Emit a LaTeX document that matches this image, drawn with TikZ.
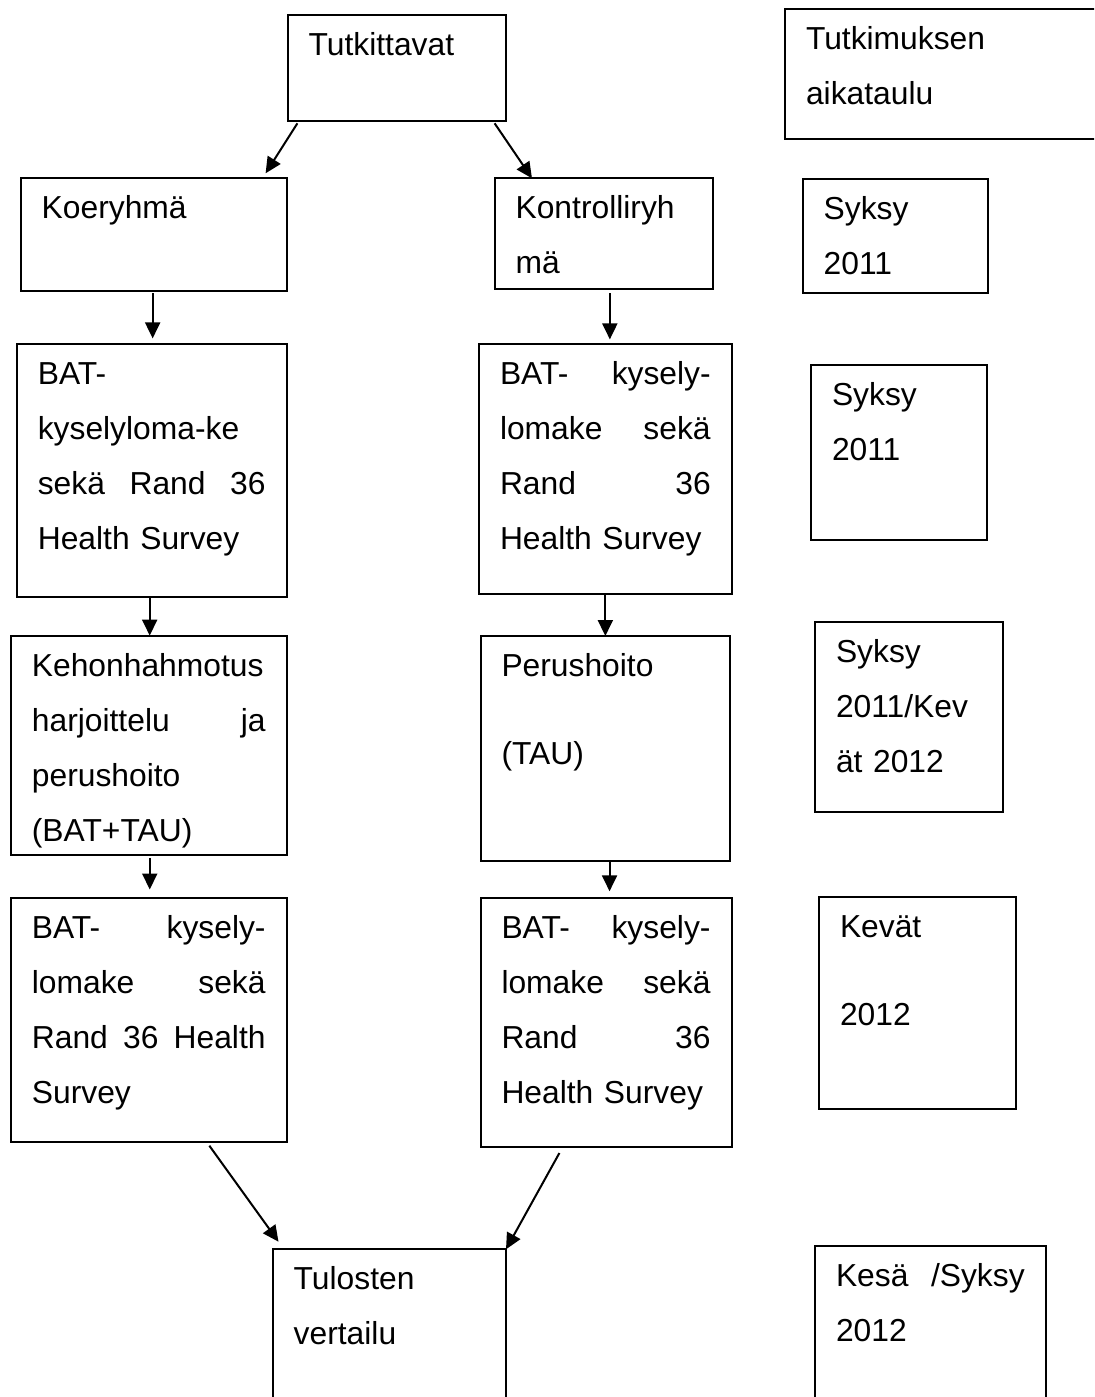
\documentclass[tikz,border=0pt]{standalone}
\usepackage{fontspec}
\setmainfont{Liberation Sans}
\usepackage{tikz}
\usetikzlibrary{arrows.meta}
\tikzset{cell/.style 2 args={draw, anchor=north west, align=left, inner xsep=10.5pt, inner ysep=0pt, outer sep=0pt, text height=20.25pt, text width=#1, text depth=#2}}

\begin{document}
\begin{tikzpicture}[x=0.5pt, y=-0.5pt, line width=1pt, every node/.style={font=\fontsize{15.9pt}{27.5pt}\selectfont}, >={Triangle[length=8pt, width=7.5pt]}]
	\useasboundingbox (0,0) rectangle (1094,1397);
	\clip (0,0) rectangle (1094,1397);
	\node[cell={88.2pt}{32.6pt}] (tut) at (287.6,15) {Tutkittavat};
	\node[cell={146.5pt}{44.75pt}] (aika) at (785,9.3) {Tutkimuksen\\aikataulu};
	\node[cell={111.95pt}{36.1pt}] (koe) at (20.7,178.3) {Koeryhmä};
	\node[cell={88.25pt}{35.25pt}] (ko) at (494.6,178.3) {Kontrolliryh\\mä};
	\node[cell={71.5pt}{36.6pt}] (syksy1) at (802.7,179) {Syksy\\2011};
	\node[cell={113.9pt}{106.45pt}] (kys1) at (16.8,344) {BAT-\\kyselyloma-ke\\sekä\hfill Rand\hfill 36\\Health Survey};
	\node[cell={105.35pt}{104.75pt}] (kys2) at (479,344) {BAT-\hfill kysely-\\lomake\hfill sekä\\Rand\hfill 36\\Health Survey};
	\node[cell={67.15pt}{67.4pt}] (syksy2) at (811,365) {Syksy\\2011};
	\node[cell={116.85pt}{89.4pt}] (hoito1) at (10.9,635.6) {Kehonhahmotus\\harjoittelu\hfill ja\\perushoito\\(BAT+TAU)};
	\node[cell={103.65pt}{92.1pt}] (hoito2) at (480.5,636) {Perushoito\\[16.5pt](TAU)};
	\node[cell={73.15pt}{74.75pt}] (syksykevat) at (815,621.7) {Syksy\\2011/Kev\\ät 2012};
	\node[cell={116.85pt}{101.45pt}] (kys3) at (10.9,898.3) {BAT-\hfill kysely-\\lomake\hfill sekä\\Rand\hfill 36\hfill Health\\Survey};
	\node[cell={104.5pt}{104pt}] (kys4) at (480.5,898.3) {BAT-\hfill kysely-\\lomake\hfill sekä\\Rand\hfill 36\\Health Survey};
	\node[cell={77.35pt}{85.75pt}] (kevat) at (819,896.7) {Kevät\\[16.5pt]2012};
	\node[cell={95.65pt}{65.1pt}] (tulos) at (272.7,1249.3) {Tulosten\\vertailu};
	\node[cell={94.35pt}{66.9pt}] (kesa) at (815,1245.7) {Kesä\hfill /Syksy\\2012};
	\draw[->] ([xshift=4.9pt, yshift=-1.3pt]tut.south west) -- ([xshift=-10.5pt, yshift=2.5pt]koe.north east);
	\draw[->] ([xshift=-5.7pt, yshift=-1.3pt]tut.south east) -- ([xshift=18.7pt]ko.north west);
	\foreach \a/\b/\dx/\s/\e in {koe/kys1/-0.5pt/1.2pt/2.8pt, ko/kys2/3pt/2pt/2.3pt, kys1/hoito1/-1pt/0.5pt/0pt, kys2/hoito2/0pt/0pt/0pt, hoito1/kys3/0.5pt/1.5pt/4.4pt, hoito2/kys4/2.2pt/0.5pt/3.5pt} {\draw[->, shorten <=\s, shorten >=\e] ([xshift=\dx]\a.south) -- ([xshift=\dx]\a.south |- \b.north);}
	\draw[->] ([xshift=30.3pt, yshift=-2pt]kys3.south) -- ([xshift=2.9pt, yshift=3.8pt]tulos.north west);
	\draw[->] ([xshift=-23.3pt, yshift=-3.1pt]kys4.south) -- (tulos.north east);
\end{tikzpicture}
\end{document}
